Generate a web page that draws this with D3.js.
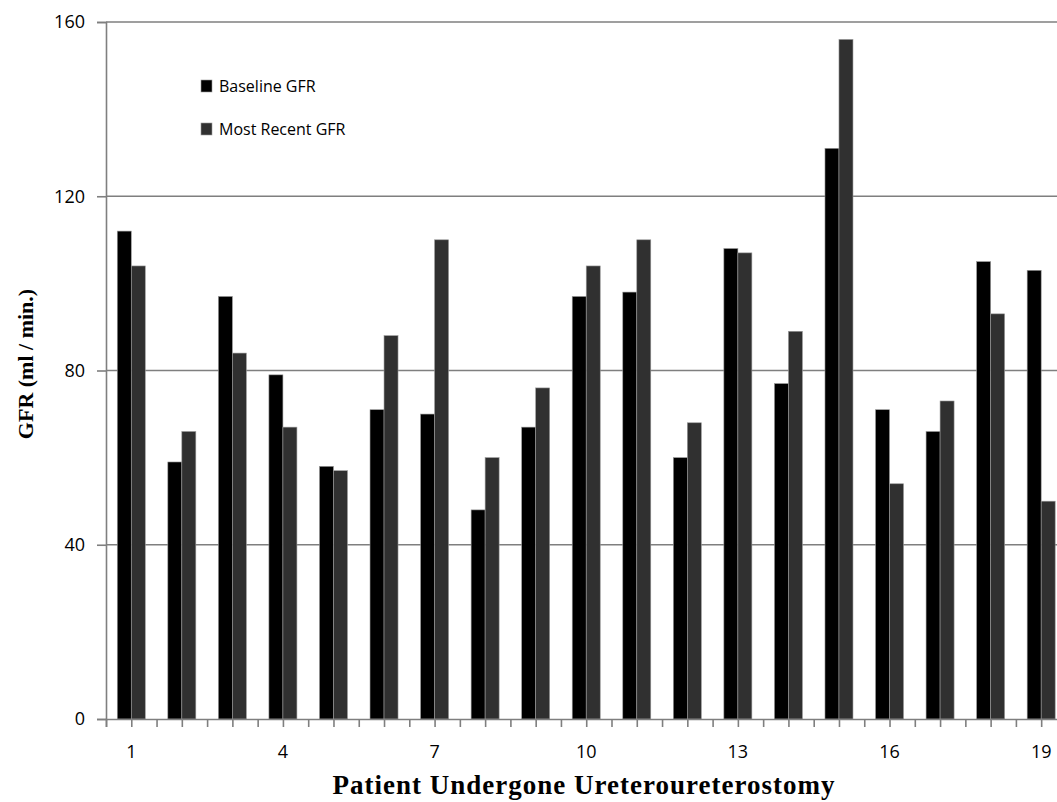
<!DOCTYPE html>
<html><head><meta charset="utf-8">
<script src="https://cdn.jsdelivr.net/npm/d3@7"></script>
<style>body{margin:0;background:#fff}svg{display:block}</style>
</head><body>
<svg id="c" width="1057" height="802"></svg>
<script>
const patients = ["1","2","3","4","5","6","7","8","9","10","11","12","13","14","15","16","17","18","19"];
const baselineGFR = [112, 59, 97, 79, 58, 71, 70, 48, 67, 97, 98, 60, 108, 77, 131, 71, 66, 105, 103];
const recentGFR   = [104, 66, 84, 67, 57, 88, 110, 60, 76, 104, 110, 68, 107, 89, 156, 54, 73, 93, 50];
const seriesNames = ["Baseline GFR", "Most Recent GFR"];
const yTicks = [0, 40, 80, 120, 160];
const xLabelShown = ["1","4","7","10","13","16","19"];
const yTitle = "GFR (ml / min.)";
const xTitle = "Patient Undergone Ureteroureterostomy";

(function(){
const svg = d3.select("#c");
const pLeft = 106, pTop = 22, pBottom = 719, step = 50.55;
const pRight = pLeft + step * patients.length;
const colors = ["#000000", "#303030"];

const x = d3.scaleBand().domain(patients).range([pLeft, pRight]).paddingInner(0.446).paddingOuter(0.223);
const xs = d3.scaleBand().domain([0,1]).range([0, x.bandwidth()]);
const y = d3.scaleLinear().domain([0, 160]).range([pBottom, pTop]);

// gridlines
svg.append("g").selectAll("line").data(yTicks.filter(d => d > 0)).join("line")
  .attr("x1", pLeft).attr("x2", pRight).attr("y1", d => y(d)).attr("y2", d => y(d))
  .attr("stroke", "#7f7f7f").attr("stroke-width", 1.6);

// bars
const series = [baselineGFR, recentGFR];
series.forEach((vals, si) => {
  svg.append("g").selectAll("rect").data(vals).join("rect")
    .attr("x", (d, i) => x(patients[i]) + xs(si))
    .attr("y", d => y(d))
    .attr("width", xs.bandwidth())
    .attr("height", d => y(0) - y(d))
    .attr("fill", colors[si])
    .attr("stroke", "#9a9a9a").attr("stroke-width", 0.6);
});

// y axis
const yAxis = d3.axisLeft(y).tickValues(yTicks).tickSize(9).tickPadding(12);
const gy = svg.append("g").attr("transform", `translate(${pLeft},0)`).call(yAxis);
gy.select(".domain").attr("stroke", "#7f7f7f").attr("stroke-width", 1.6);
gy.selectAll(".tick line").attr("stroke", "#7f7f7f").attr("stroke-width", 1.6);
gy.selectAll(".tick text").attr("font-family", "Open Sans, sans-serif").attr("font-size", 18).attr("fill", "#000");

// x axis (ticks at category boundaries and centers)
const tickPos = [];
for (let i = 0; i <= patients.length; i++) tickPos.push(pLeft + i * step);
for (let i = 0; i < patients.length; i++) tickPos.push(pLeft + (i + 0.5) * step);
const xl = d3.scaleLinear().domain([pLeft, pRight]).range([pLeft, pRight]);
const xAxis = d3.axisBottom(xl).tickValues(tickPos).tickSize(8).tickFormat("");
const gx = svg.append("g").attr("transform", `translate(0,${pBottom})`).call(xAxis);
gx.select(".domain").attr("stroke", "#7f7f7f").attr("stroke-width", 1.6);
gx.selectAll(".tick line").attr("stroke", "#7f7f7f").attr("stroke-width", 1.6);

svg.append("g").selectAll("text").data(xLabelShown).join("text")
  .attr("x", d => x(d) + x.bandwidth() / 2).attr("y", 758)
  .attr("text-anchor", "middle").attr("font-family", "Open Sans, sans-serif").attr("font-size", 18)
  .text(d => d);

// titles
svg.append("text").attr("x", 584).attr("y", 794).attr("text-anchor", "middle")
  .attr("font-family", "Liberation Serif, serif").attr("font-weight", "bold").attr("font-size", 27)
  .attr("letter-spacing", 1)
  .text(xTitle);
svg.append("text").attr("transform", "translate(33,364) rotate(-90)").attr("text-anchor", "middle")
  .attr("font-family", "Liberation Serif, serif").attr("font-weight", "bold").attr("font-size", 22)
  .text(yTitle);

// legend
const lg = svg.append("g");
seriesNames.forEach((n, i) => {
  lg.append("rect").attr("x", 201).attr("y", 80 + i * 43).attr("width", 11).attr("height", 12)
    .attr("fill", colors[i]).attr("stroke", "#9a9a9a").attr("stroke-width", 0.6);
  lg.append("text").attr("x", 219).attr("y", 92 + i * 43)
    .attr("font-family", "Open Sans, sans-serif").attr("font-size", 16).text(n);
});
})();
</script>
</body></html>
